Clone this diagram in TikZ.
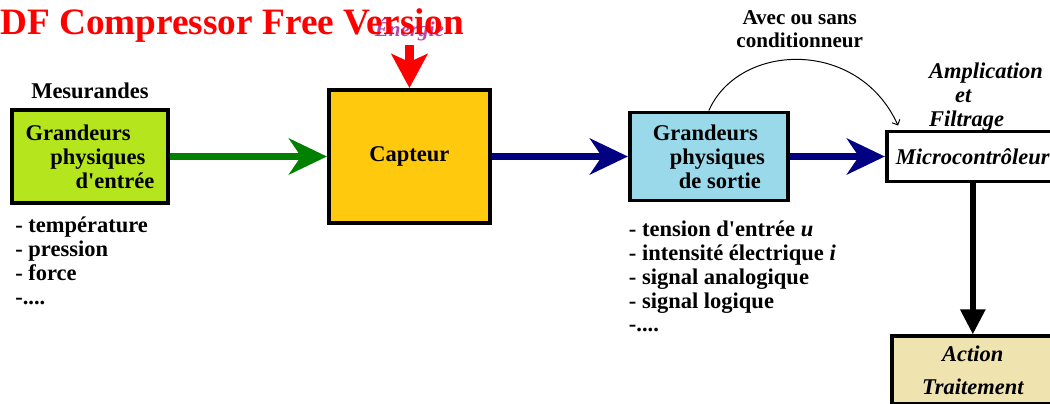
\documentclass[tikz,border=0pt]{standalone}
\usepackage{fontspec}
\setmainfont{Liberation Serif}[Ligatures=TeXOff]
\usepackage{xcolor}
\usepackage{tikz}
\usetikzlibrary{
    arrows.meta,
    positioning,
    calc
}

\definecolor{limefill}{HTML}{B5E61D}
\definecolor{goldfill}{HTML}{FFC90E}
\definecolor{skyfill}{HTML}{99D9EA}
\definecolor{creamfill}{HTML}{EFE4B0}
\definecolor{navyarr}{HTML}{000080}
\definecolor{greenarr}{HTML}{008000}
\definecolor{energiecol}{HTML}{B446AA}

\begin{document}
\begin{tikzpicture}[
  block/.style={rectangle, draw=black, line width=2.8pt,
    font=\fontsize{16}{17}\selectfont\bfseries, align=left, inner sep=0pt},
  entreebox/.style={block, fill=limefill,
    minimum width=3.9cm, minimum height=2.325cm},
  capteurbox/.style={block, fill=goldfill,
    minimum width=4.025cm, minimum height=3.325cm, align=center},
  sortiebox/.style={block, fill=skyfill,
    minimum width=3.95cm, minimum height=2.2cm},
  microbox/.style={block, fill=white,
    minimum width=4.3cm, minimum height=1.25cm,
    font=\fontsize{16}{17}\selectfont\bfseries\itshape},
  actionbox/.style={block, fill=creamfill,
    minimum width=4.05cm, minimum height=1.7cm, align=center,
    font=\fontsize{16}{17}\selectfont\bfseries\itshape},
  lbl/.style={font=\fontsize{16}{17}\selectfont\bfseries, align=left},
  liste/.style={lbl, anchor=north west, inner sep=0pt},
  flow/.style={line width=4.8pt,
    -{Stealth[length=0.95cm, width=0.9cm, inset=0.3cm]}},
  cond/.style={line width=0.7pt,
    -{Straight Barb[length=3pt, width=6pt]}},
  node distance=0.15cm and 3.9cm
]

\useasboundingbox (0,0) rectangle (26.25,-10.075);

%% ── Energie (drawn under the banner) ────────────────────────────────────────
\node[entreebox] (entree) at (2.25,-3.9125)
    {Grandeurs\\\hspace*{0.62cm}physiques\\\hspace*{1.25cm}d'entrée};
\node[capteurbox, right=3.925cm of entree] (capteur) {Capteur};

\coordinate (energie) at ([yshift=1.075cm]capteur.north);
\node[above=-1pt of energie, font=\fontsize{15}{16}\selectfont\bfseries\itshape,
      text=energiecol] (energie_lbl) {Énergie};
\draw[line width=7pt, red,
      -{Stealth[length=0.85cm, width=0.9cm, inset=0.2cm]}]
    (energie) -- (capteur.north);

%% ── Banner ──────────────────────────────────────────────────────────────────
\node[anchor=base west, inner sep=0pt, text=red,
      font=\fontsize{26.5}{28}\selectfont\bfseries] (banner) at (0,-0.875)
    {DF Compressor Free Version};

%% ── Col 1: Mesurandes ───────────────────────────────────────────────────────
\node[lbl, above=0.1cm of entree] (mesurandes) {Mesurandes};
\node[liste] (mes_list) at ([xshift=0.125cm, yshift=-0.3cm]entree.south west)
    {- température\\- pression\\- force\\-....};

\draw[flow, greenarr] (entree) -- (capteur);

%% ── Col 3: Grandeurs de sortie ──────────────────────────────────────────────
\node[sortiebox, right=3.4cm of capteur] (sortie)
    {Grandeurs\\\hspace*{0.42cm}physiques\\\hspace*{0.65cm}de sortie};
\node[liste] (sortie_list) at ([xshift=0.02cm, yshift=-0.45cm]sortie.south west)
    {- tension d'entrée \textit{u}\\- intensité électrique \textit{i}\\%
     - signal analogique\\- signal logique\\-....};

\draw[flow, navyarr] (capteur) -- (sortie);

%% ── Col 4: Microcontroleur ──────────────────────────────────────────────────
\node[microbox, right=2.375cm of sortie] (micro) {Microcontrôleur};
\node[lbl, anchor=south west, inner sep=0pt, font=\fontsize{16}{17}\selectfont\bfseries\itshape]
    (ampli) at ([xshift=1.1cm, yshift=-0.05cm]micro.north west)
    {Amplication\\\hspace*{0.65cm}et\\Filtrage};

\draw[flow, navyarr] (sortie) -- (micro);

\draw[cond] (sortie.north)
    .. controls +(0.75,1.7) and +(-1.0,2.2) ..
    ([xshift=0.33cm, yshift=0.1cm]micro.north west)
    node[pos=0.5, above=0.17cm, align=center,
         font=\fontsize{15}{16.5}\selectfont\bfseries] (cond_lbl)
    {Avec ou sans\\conditionneur};

%% ── Action ──────────────────────────────────────────────────────────────────
\node[actionbox, below=3.775cm of micro] (action) {Action\\[6.4pt]Traitement};

\draw[line width=4.3pt, -{Triangle[length=0.63cm, width=0.6cm]}]
    (micro) -- (action);

\end{tikzpicture}
\end{document}
